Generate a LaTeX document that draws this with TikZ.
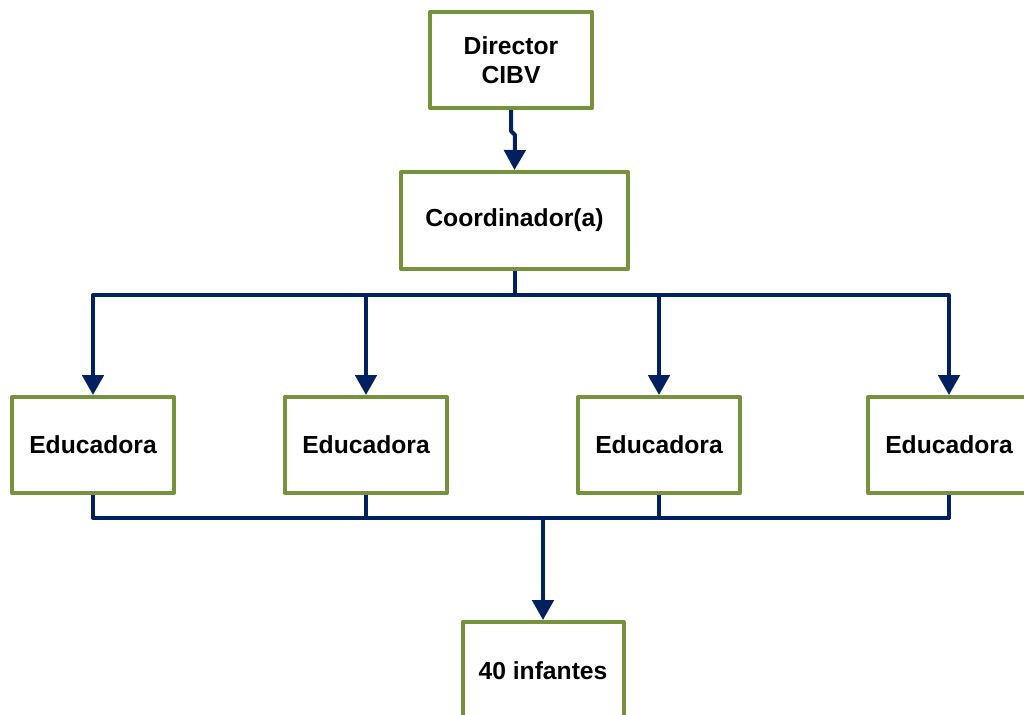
\documentclass[tikz,border=0pt]{standalone}
\usepackage{fontspec}
\setmainfont{Liberation Sans}
\usetikzlibrary{arrows.meta}
\definecolor{boxgreen}{HTML}{76923C}
\definecolor{linenavy}{HTML}{002060}
\begin{document}
\begin{tikzpicture}[x=0.75pt,y=-0.75pt,
  box/.style={draw=boxgreen,line width=3pt,fill=white,line join=round,
    minimum width=121.5pt,minimum height=72pt,align=center,inner sep=0pt,
    font=\fontsize{18.5}{22}\selectfont\bfseries},
  conn/.style={draw=linenavy,line width=3pt,line join=round},
  arr/.style={conn,-{Triangle[width=16pt,length=15pt]}}]
\useasboundingbox (0,0) rectangle (1024,714);
\clip (0,0) rectangle (1024,714);
\node[box] (d) at (511,60) {Director\\CIBV};
\node[box,minimum width=170pt,minimum height=72.75pt] (c) at (514.5,220.5) {Coordinador(a)};
\node[box] (e1) at (93,445) {Educadora};
\node[box] (e2) at (366,445) {Educadora};
\node[box] (e3) at (659,445) {Educadora};
\node[box] (e4) at (949,445) {Educadora};
\node[box,minimum width=120.75pt,minimum height=72.75pt] (inf) at (543,670.5) {40 infantes};
\coordinate (bus) at (543,518);
\draw[arr] (d.south) -- ++(0,21) -- ++(4,4) -- (c.north);
\foreach \e in {e1,e2,e3,e4}{
  \draw[arr] (c.south) -- ++(0,24) -| (\e.north);
  \draw[conn] (\e.south) |- (bus);
}
\draw[arr] (bus) -- (inf.north);
\end{tikzpicture}
\end{document}
